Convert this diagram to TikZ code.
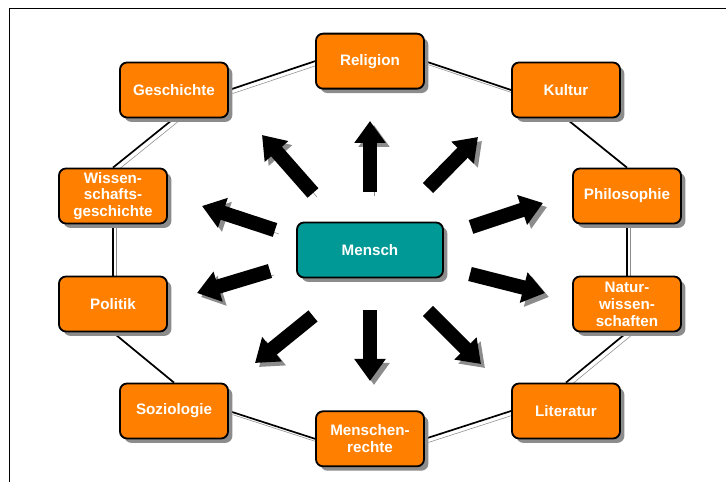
\documentclass[tikz,border=0pt]{standalone}
\usepackage{fontspec}
\setmainfont{Liberation Sans}
\usepackage{tikz}
\usetikzlibrary{positioning, arrows.meta, shadows, backgrounds}

\definecolor{boxorange}{RGB}{255,128,0}
\definecolor{boxteal}{RGB}{0,153,150}
\definecolor{shadowgray}{RGB}{140,140,140}

\tikzstyle{topic} = [
    rectangle, draw, line width=1.3pt, rounded corners=5pt,
    fill=boxorange, text=white, font=\fontsize{10.8}{12}\selectfont\bfseries,
    minimum width=2.7cm, minimum height=1.375cm, % same size for all outer boxes
    inner sep=2pt, align=center,
    drop shadow={shadow xshift=0.11cm, shadow yshift=-0.11cm, fill=shadowgray, opacity=1}
]
\tikzstyle{core} = [
    topic, fill=boxteal, minimum width=3.65cm
]
\tikzstyle{link} = [
    line width=1.2pt,
    preaction={draw=shadowgray, transform canvas={xshift=0.09cm, yshift=-0.09cm}} % grey copy below right
]
\tikzstyle{bigarrow} = [
    line width=0.36cm, -{Triangle[width=0.75cm, length=0.55cm]},
    preaction={draw=shadowgray, transform canvas={xshift=0.1cm, yshift=-0.1cm}}
]

\begin{document}
\begin{tikzpicture}
        \useasboundingbox (-9.25,-5.8) rectangle (8.9,6.25);

        % Frame (only top and left edge visible)
        \draw[line width=0.6pt] (-9.025,-5.8) -- (-9.025,6.05) -- (8.9,6.05);

        % Centre
        \node[core] (mensch) at (0,0) {Mensch};

        % Ring of topics
        \node[topic] (religion) [above=3.3cm of mensch] {Religion};
        \node[topic] (kultur) at (4.9,4.0) {Kultur};
        \node[topic] (philosophie) at (6.425,1.35) {Philosophie};
        \node[topic] (natur) at (6.425,-1.35) {Natur-\\wissen-\\schaften};
        \node[topic] (literatur) at (4.9,-4.025) {Literatur};
        \node[topic] (menschenrechte) [below=3.3cm of mensch] {Menschen-\\rechte};
        \node[topic] (soziologie) at (-4.9,-4.025) {Soziologie};
        \node[topic] (politik) at (-6.425,-1.35) {Politik};
        \node[topic] (wissen) at (-6.425,1.35) {Wissen-\\schafts-\\geschichte};
        \node[topic] (geschichte) at (-4.9,4.0) {Geschichte};

        % Ring connectors, behind the boxes
        \begin{scope}[on background layer]
            \draw[link] (geschichte.east) -- (religion.west);
            \draw[link] (religion.east) -- (kultur.west);
            \draw[link] (kultur.south) -- (philosophie.north);
            \draw[link] (philosophie.south) -- (natur.north);
            \draw[link] (natur.south) -- (literatur.north);
            \draw[link] (literatur.west) -- (menschenrechte.east);
            \draw[link] (menschenrechte.west) -- (soziologie.east);
            \draw[link] (soziologie.north) -- (politik.south);
            \draw[link] (politik.north) -- (wissen.south);
            \draw[link] (wissen.north) -- (geschichte.south);
        \end{scope}

        % Arrows pointing out from the centre
        \draw[bigarrow] ([shift={(0,1.45)}]mensch.center) -- ++(0,1.775);
        \draw[bigarrow] ([shift={(-1.425,1.425)}]mensch.center) -- ++(-1.275,1.45);
        \draw[bigarrow] ([shift={(-2.375,0.5)}]mensch.center) -- ++(-1.825,0.6);
        \draw[bigarrow] ([shift={(-2.5,-0.525)}]mensch.center) -- ++(-1.825,-0.55);
        \draw[bigarrow] ([shift={(-1.425,-1.65)}]mensch.center) -- ++(-1.45,-1.175);
        \draw[bigarrow] ([shift={(0,-1.5)}]mensch.center) -- ++(0,-1.775);
        \draw[bigarrow] ([shift={(1.45,-1.525)}]mensch.center) -- ++(1.325,-1.325);
        \draw[bigarrow] ([shift={(2.5,-0.6)}]mensch.center) -- ++(1.875,-0.475);
        \draw[bigarrow] ([shift={(2.525,0.575)}]mensch.center) -- ++(1.8,0.6);
        \draw[bigarrow] ([shift={(1.45,1.55)}]mensch.center) -- ++(1.25,1.275);

    \end{tikzpicture}
\end{document}
